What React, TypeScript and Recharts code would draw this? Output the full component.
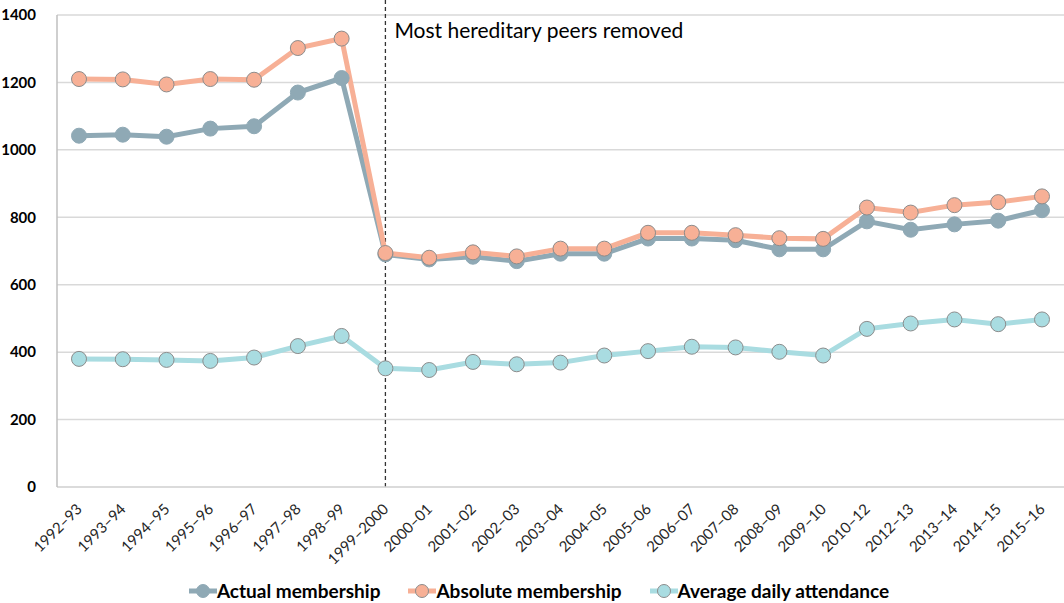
import {
  LineChart,
  Line,
  XAxis,
  YAxis,
  CartesianGrid,
  Legend,
  ReferenceLine,
} from 'recharts'

// ─── Data ─────────
const categories = [
  '1992–93', '1993–94', '1994–95', '1995–96', '1996–97', '1997–98', '1998–99',
  '1999–2000', '2000–01', '2001–02', '2002–03', '2003–04', '2004–05', '2005–06',
  '2006–07', '2007–08', '2008–09', '2009–10', '2010–12', '2012–13', '2013–14',
  '2014–15', '2015–16',
]
const actualMembership = [
  1042, 1045, 1039, 1063, 1070, 1170, 1213, 690, 675, 683, 670, 692, 692, 737,
  737, 732, 705, 705, 788, 763, 779, 790, 821,
]
const absoluteMembership = [
  1210, 1209, 1194, 1210, 1208, 1302, 1330, 694, 680, 696, 684, 707, 707, 754,
  754, 747, 738, 736, 829, 814, 836, 845, 862,
]
const dailyAttendance = [
  380, 379, 377, 374, 384, 418, 448, 352, 347, 371, 364, 369, 390, 403, 416,
  414, 401, 390, 469, 485, 497, 483, 497,
]
const yTicks = [0, 200, 400, 600, 800, 1000, 1200, 1400]
const markerCategory = '1999–2000'
const markerText = 'Most hereditary peers removed'

const series = [
  { key: 'actual', name: 'Actual membership', color: '#8FA9B5', border: '#8FA9B5' },
  { key: 'absolute', name: 'Absolute membership', color: '#F7B096', border: '#8C8C8C' },
  { key: 'attendance', name: 'Average daily attendance', color: '#A9DCE1', border: '#8C8C8C' },
]

const data = categories.map((name, i) => ({
  name,
  actual: actualMembership[i],
  absolute: absoluteMembership[i],
  attendance: dailyAttendance[i],
}))

const FONT = 'Lato, "Open Sans", sans-serif'

// ─── Rotated category tick ─────────
function XTick({ x, y, payload }: any) {
  const ax = x + 4
  const ay = y + 15
  return (
    <text
      x={ax}
      y={ay}
      transform={`rotate(-45, ${ax}, ${ay})`}
      textAnchor="end"
      fontSize={15}
      fontFamily={FONT}
      fill="#262626"
    >
      {payload.value}
    </text>
  )
}

function LegendContent() {
  return (
    <div
      style={{
        display: 'flex',
        justifyContent: 'center',
        gap: 28,
        fontFamily: FONT,
        fontWeight: 700,
        fontSize: 19,
        color: '#000',
        paddingLeft: 14,
      }}
    >
      {series.map((s) => (
        <div key={s.key} style={{ display: 'flex', alignItems: 'center' }}>
          <svg width={28} height={16}>
            <line x1={0} y1={8} x2={28} y2={8} stroke={s.color} strokeWidth={5} />
            <circle cx={14} cy={8} r={6.5} fill={s.color} stroke={s.border} strokeWidth={1} />
          </svg>
          <span>{s.name}</span>
        </div>
      ))}
    </div>
  )
}

export default function App() {
  return (
    <div style={{ position: 'absolute', left: 0, top: 0, width: 1064, height: 603, background: '#fff' }}>
      <LineChart
        width={1064}
        height={603}
        data={data}
        margin={{ top: 15, right: 0, bottom: 0, left: 0 }}
      >
        <CartesianGrid vertical={false} stroke="#D9D9D9" strokeWidth={1.5} />
        <XAxis
          dataKey="name"
          interval={0}
          height={92}
          padding={{ left: 22, right: 22 }}
          tick={<XTick />}
          tickLine={false}
          axisLine={{ stroke: '#D9D9D9', strokeWidth: 1.5 }}
        />
        <YAxis
          domain={[0, 1400]}
          ticks={yTicks}
          width={57}
          tickLine={false}
          axisLine={{ stroke: '#BFBFBF', strokeWidth: 1.5 }}
          tickMargin={15}
          tick={{ fill: '#000', fontSize: 15, fontWeight: 700, fontFamily: FONT }}
        />
        <ReferenceLine
          segment={[
            { x: markerCategory, y: 0 },
            { x: markerCategory, y: 1445 },
          ]}
          ifOverflow="visible"
          stroke="#333"
          strokeWidth={1.3}
          strokeDasharray="4 3"
          label={(props: any) => {
            const vb = props.viewBox || {}
            return (
              <text
                x={(vb.x ?? 0) + 9}
                y={(vb.y ?? 0) + 38}
                fontSize={21}
                fontFamily={FONT}
                fill="#000"
              >
                {markerText}
              </text>
            )
          }}
        />
        {series.map((s) => (
          <Line
            key={s.key}
            type="linear"
            dataKey={s.key}
            name={s.name}
            stroke={s.color}
            strokeWidth={5}
            dot={{ r: 7.5, fill: s.color, stroke: s.border, strokeWidth: 1 }}
            activeDot={false}
            isAnimationActive={false}
          />
        ))}
        <Legend verticalAlign="bottom" height={24} content={<LegendContent />} />
      </LineChart>
    </div>
  )
}
